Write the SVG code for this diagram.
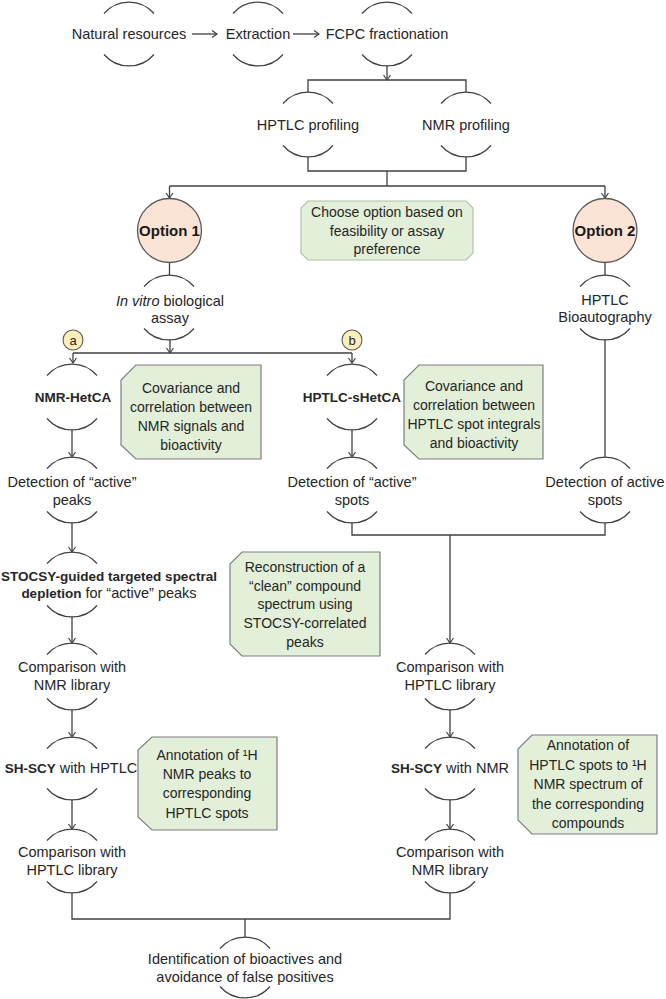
<svg xmlns="http://www.w3.org/2000/svg" width="666" height="999" viewBox="0 0 666 999">
<defs>
<marker id="ah" markerUnits="userSpaceOnUse" markerWidth="12" markerHeight="12" refX="6" refY="6" orient="auto">
<path d="M1,2.5 L6,6 L1,9.5" fill="none" stroke="#404040" stroke-width="1.2"/>
</marker>
</defs>
<style>
text{font-family:"Liberation Sans",Arial,sans-serif;font-size:14.5px;fill:#262626;text-anchor:middle}
.b{font-weight:bold;font-size:13.5px}
.bx{font-size:14px}
.ob{font-weight:bold;font-size:15px;fill:#1a1a1a}
.arc{fill:none;stroke:#404040;stroke-width:1.2}
.ln{fill:none;stroke:#404040;stroke-width:1.3}
.ar{marker-end:url(#ah)}
.opt{fill:#fbe4d5;stroke:#595959;stroke-width:1.3}
.lab{fill:#fdedb8;stroke:#595959;stroke-width:1.1}
.gb{fill:#e2efd9;stroke:#7f7f7f;stroke-width:1.2}
.gb2{fill:#e2efd9;stroke:#b0c4a8;stroke-width:1.2}
</style>
<rect width="666" height="999" fill="#ffffff"/>

<g id="connectors">
<path class="ln ar" d="M192,34 H217"/>
<path class="ln ar" d="M293,34 H319"/>
<path class="ln ar" d="M387,66 V80"/>
<path class="ln" d="M308,92 V80 H466 V92"/>
<path class="ln" d="M308,157 V171 H466 V157"/>
<path class="ln" d="M387,171 V186"/>
<path class="ln" d="M169.5,186 H605"/>
<path class="ln ar" d="M169.5,186 V198"/>
<path class="ln ar" d="M605,186 V198"/>
<path class="ln" d="M169.5,262.5 V275"/>
<path class="ln" d="M605,262.5 V275"/>
<path class="ln ar" d="M170,340 V353"/>
<path class="ln" d="M73,353 H352"/>
<path class="ln ar" d="M73,353 V363"/>
<path class="ln ar" d="M352,353 V363"/>
<path class="ln ar" d="M72,430 V457"/>
<path class="ln ar" d="M352,430 V457"/>
<path class="ln" d="M605,340 V457"/>
<path class="ln ar" d="M72,523 V552"/>
<path class="ln" d="M352,523 V535 H605 V523"/>
<path class="ln ar" d="M450,535 V643"/>
<path class="ln ar" d="M72,617 V643"/>
<path class="ln ar" d="M72,710 V737"/>
<path class="ln ar" d="M450,710 V737"/>
<path class="ln ar" d="M72,800 V829"/>
<path class="ln ar" d="M450,800 V829"/>
<path class="ln" d="M72,893 V919 H450 V893"/>
<path class="ln" d="M245,919 V937"/>
</g>

<g id="n-natural">
<path class="arc" d="M104,13.5 A33,33 0 0 1 154,13.5"/>
<path class="arc" d="M104,54.5 A33,33 0 0 0 154,54.5"/>
<text x="129" y="39">Natural resources</text>
</g>
<g id="n-extraction">
<path class="arc" d="M233,13.5 A33,33 0 0 1 283,13.5"/>
<path class="arc" d="M233,54.5 A33,33 0 0 0 283,54.5"/>
<text x="258" y="39">Extraction</text>
</g>
<g id="n-fcpc">
<path class="arc" d="M362,13.5 A33,33 0 0 1 412,13.5"/>
<path class="arc" d="M362,54.5 A33,33 0 0 0 412,54.5"/>
<text x="387" y="39">FCPC fractionation</text>
</g>
<g id="n-hptlc-prof">
<path class="arc" d="M283,103.5 A33,33 0 0 1 333,103.5"/>
<path class="arc" d="M283,145.5 A33,33 0 0 0 333,145.5"/>
<text x="308" y="130">HPTLC profiling</text>
</g>
<g id="n-nmr-prof">
<path class="arc" d="M441,103.5 A33,33 0 0 1 491,103.5"/>
<path class="arc" d="M441,145.5 A33,33 0 0 0 491,145.5"/>
<text x="466" y="130">NMR profiling</text>
</g>

<g id="n-option1">
<circle class="opt" cx="169.5" cy="230.5" r="32"/>
<text class="ob" x="169.5" y="236">Option 1</text>
</g>
<g id="n-choose">
<polygon class="gb2" points="308,201 466,201 473,208 473,253 466,260 308,260 301,253 301,208"/>
<text class="bx" x="387" y="217">Choose option based on</text>
<text class="bx" x="387" y="236">feasibility or assay</text>
<text class="bx" x="387" y="254">preference</text>
</g>
<g id="n-option2">
<circle class="opt" cx="605" cy="230.5" r="32"/>
<text class="ob" x="605" y="236">Option 2</text>
</g>

<g id="n-invitro">
<path class="arc" d="M144,286.5 A33,33 0 0 1 194,286.5"/>
<path class="arc" d="M144,328.5 A33,33 0 0 0 194,328.5"/>
<text x="170" y="306"><tspan font-style="italic">In vitro</tspan> biological</text>
<text x="170" y="323">assay</text>
</g>
<g id="n-bioauto">
<path class="arc" d="M580,286.5 A33,33 0 0 1 630,286.5"/>
<path class="arc" d="M580,328.5 A33,33 0 0 0 630,328.5"/>
<text x="605" y="305">HPTLC</text>
<text x="605" y="322">Bioautography</text>
</g>

<g id="n-a">
<circle class="lab" cx="73" cy="340" r="10"/>
<text x="73" y="345" style="font-size:13px">a</text>
</g>
<g id="n-b">
<circle class="lab" cx="352" cy="340" r="10"/>
<text x="352" y="345" style="font-size:13px">b</text>
</g>

<g id="n-nmrhetca">
<path class="arc" d="M47,375.5 A33,33 0 0 1 97,375.5"/>
<path class="arc" d="M47,418.5 A33,33 0 0 0 97,418.5"/>
<text class="b" x="73" y="402">NMR-HetCA</text>
</g>
<g id="n-box1">
<polygon class="gb" points="136,365 261,365 261,459 136,459 121,445 121,380"/>
<text class="bx" x="191" y="393">Covariance and</text>
<text class="bx" x="191" y="412">correlation between</text>
<text class="bx" x="191" y="431">NMR signals and</text>
<text class="bx" x="191" y="450">bioactivity</text>
</g>
<g id="n-hptlcshetca">
<path class="arc" d="M327,375.5 A33,33 0 0 1 377,375.5"/>
<path class="arc" d="M327,418.5 A33,33 0 0 0 377,418.5"/>
<text class="b" x="352" y="402">HPTLC-sHetCA</text>
</g>
<g id="n-box2">
<polygon class="gb" points="419,365 543,365 543,459 419,459 404,445 404,380"/>
<text class="bx" x="474" y="391">Covariance and</text>
<text class="bx" x="474" y="410">correlation between</text>
<text class="bx" x="474" y="429">HPTLC spot integrals</text>
<text class="bx" x="474" y="448">and bioactivity</text>
</g>

<g id="n-det-peaks">
<path class="arc" d="M47,468.5 A33,33 0 0 1 97,468.5"/>
<path class="arc" d="M47,511.5 A33,33 0 0 0 97,511.5"/>
<text x="72" y="487">Detection of “active”</text>
<text x="72" y="505">peaks</text>
</g>
<g id="n-det-spots1">
<path class="arc" d="M327,468.5 A33,33 0 0 1 377,468.5"/>
<path class="arc" d="M327,511.5 A33,33 0 0 0 377,511.5"/>
<text x="352" y="487">Detection of “active”</text>
<text x="352" y="505">spots</text>
</g>
<g id="n-det-spots2">
<path class="arc" d="M580,468.5 A33,33 0 0 1 630,468.5"/>
<path class="arc" d="M580,511.5 A33,33 0 0 0 630,511.5"/>
<text x="605" y="487">Detection of active</text>
<text x="605" y="505">spots</text>
</g>

<g id="n-stocsy">
<path class="arc" d="M47,563.5 A33,33 0 0 1 97,563.5"/>
<path class="arc" d="M47,605.5 A33,33 0 0 0 97,605.5"/>
<text class="b" x="109" y="581">STOCSY-guided targeted spectral</text>
<text x="109" y="598"><tspan class="b">depletion</tspan> for “active” peaks</text>
</g>
<g id="n-box3">
<polygon class="gb" points="242,552 380,552 380,656 242,656 230,644 230,564"/>
<text class="bx" x="305" y="572">Reconstruction of a</text>
<text class="bx" x="305" y="591">“clean” compound</text>
<text class="bx" x="305" y="609">spectrum using</text>
<text class="bx" x="305" y="628">STOCSY-correlated</text>
<text class="bx" x="305" y="647">peaks</text>
</g>

<g id="n-comp-nmr1">
<path class="arc" d="M47,654.5 A33,33 0 0 1 97,654.5"/>
<path class="arc" d="M47,698.5 A33,33 0 0 0 97,698.5"/>
<text x="72" y="672">Comparison with</text>
<text x="72" y="690">NMR library</text>
</g>
<g id="n-comp-hptlc1">
<path class="arc" d="M425,654.5 A33,33 0 0 1 475,654.5"/>
<path class="arc" d="M425,698.5 A33,33 0 0 0 475,698.5"/>
<text x="450" y="672">Comparison with</text>
<text x="450" y="690">HPTLC library</text>
</g>

<g id="n-shscy-hptlc">
<path class="arc" d="M47,748.5 A33,33 0 0 1 97,748.5"/>
<path class="arc" d="M47,788.5 A33,33 0 0 0 97,788.5"/>
<text x="71" y="773"><tspan class="b">SH-SCY</tspan> with HPTLC</text>
</g>
<g id="n-box4">
<polygon class="gb" points="152,737 277,737 277,830 152,830 138,817 138,750"/>
<text class="bx" x="207" y="760">Annotation of ¹H</text>
<text class="bx" x="207" y="779">NMR peaks to</text>
<text class="bx" x="207" y="798">corresponding</text>
<text class="bx" x="207" y="818">HPTLC spots</text>
</g>
<g id="n-shscy-nmr">
<path class="arc" d="M425,748.5 A33,33 0 0 1 475,748.5"/>
<path class="arc" d="M425,788.5 A33,33 0 0 0 475,788.5"/>
<text x="450" y="773"><tspan class="b">SH-SCY</tspan> with NMR</text>
</g>
<g id="n-box5">
<polygon class="gb" points="532,735 657,735 657,834 532,834 518,820 518,749"/>
<text class="bx" x="588" y="750">Annotation of</text>
<text class="bx" x="588" y="770">HPTLC spots to ¹H</text>
<text class="bx" x="588" y="789">NMR spectrum of</text>
<text class="bx" x="588" y="809">the corresponding</text>
<text class="bx" x="588" y="828">compounds</text>
</g>

<g id="n-comp-hptlc2">
<path class="arc" d="M47,840.5 A33,33 0 0 1 97,840.5"/>
<path class="arc" d="M47,881.5 A33,33 0 0 0 97,881.5"/>
<text x="72" y="857">Comparison with</text>
<text x="72" y="875">HPTLC library</text>
</g>
<g id="n-comp-nmr2">
<path class="arc" d="M425,840.5 A33,33 0 0 1 475,840.5"/>
<path class="arc" d="M425,881.5 A33,33 0 0 0 475,881.5"/>
<text x="450" y="857">Comparison with</text>
<text x="450" y="875">NMR library</text>
</g>

<g id="n-ident">
<path class="arc" d="M220,948.5 A33,33 0 0 1 270,948.5"/>
<path class="arc" d="M220,986.5 A33,33 0 0 0 270,986.5"/>
<text x="245" y="964">Identification of bioactives and</text>
<text x="245" y="982">avoidance of false positives</text>
</g>
</svg>
